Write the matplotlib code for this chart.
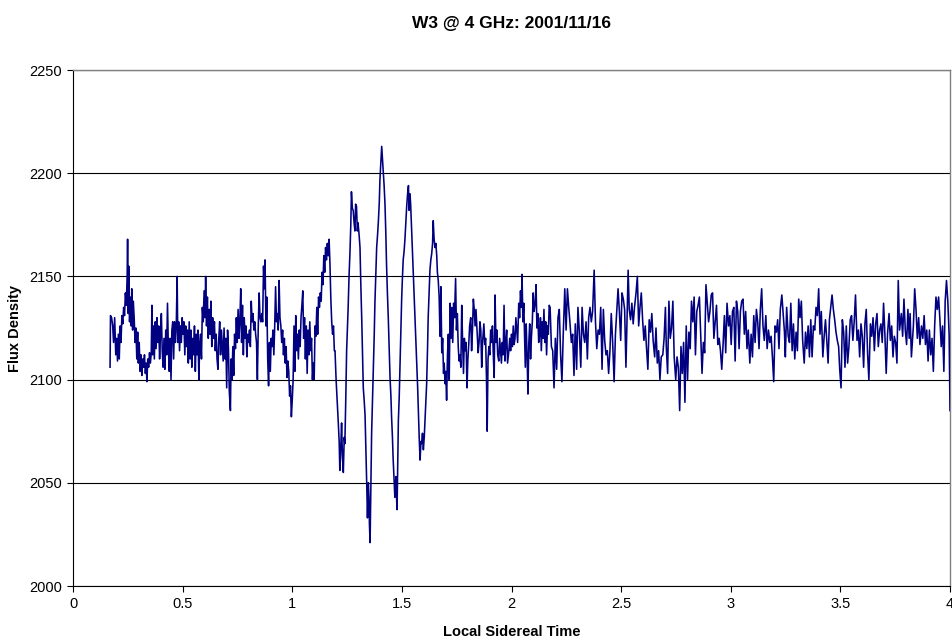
import matplotlib
matplotlib.use("Agg")
import matplotlib.pyplot as plt

plt.rcParams['font.family'] = ['Liberation Sans', 'DejaVu Sans']

# W3 drift scan, 4 GHz, 2001/11/16
lst = [
    0.169, 0.171, 0.176, 0.181, 0.185, 0.190, 0.195, 0.199, 0.203, 0.207,
    0.211, 0.215, 0.219, 0.223, 0.227, 0.231, 0.235, 0.239, 0.243, 0.247,
    0.249, 0.252, 0.254, 0.258, 0.261, 0.265, 0.268, 0.272, 0.275, 0.279,
    0.283, 0.287, 0.291, 0.295, 0.298, 0.302, 0.306, 0.310, 0.314, 0.318,
    0.322, 0.326, 0.330, 0.334, 0.337, 0.341, 0.345, 0.349, 0.353, 0.357,
    0.360, 0.363, 0.367, 0.371, 0.375, 0.379, 0.383, 0.387, 0.391, 0.395,
    0.399, 0.403, 0.407, 0.411, 0.415, 0.419, 0.423, 0.427, 0.431, 0.435,
    0.439, 0.443, 0.447, 0.451, 0.455, 0.459, 0.463, 0.467, 0.471, 0.475,
    0.478, 0.482, 0.486, 0.490, 0.494, 0.498, 0.502, 0.506, 0.510, 0.514,
    0.518, 0.522, 0.526, 0.530, 0.534, 0.538, 0.542, 0.546, 0.550, 0.554,
    0.558, 0.562, 0.566, 0.570, 0.574, 0.578, 0.582, 0.586, 0.590, 0.594,
    0.598, 0.602, 0.605, 0.609, 0.613, 0.617, 0.621, 0.625, 0.629, 0.633,
    0.637, 0.641, 0.645, 0.649, 0.653, 0.657, 0.661, 0.665,
    0.669, 0.673, 0.677, 0.681, 0.685, 0.689, 0.693, 0.697, 0.701, 0.705,
    0.709, 0.713, 0.718, 0.721, 0.725, 0.729, 0.733, 0.737, 0.741, 0.745,
    0.749, 0.753, 0.757, 0.761, 0.765, 0.769, 0.773, 0.777, 0.781, 0.785,
    0.789, 0.793, 0.797, 0.801, 0.805, 0.809, 0.813, 0.817, 0.821, 0.825,
    0.829, 0.833, 0.837, 0.841, 0.845, 0.849, 0.853, 0.857, 0.861, 0.865,
    0.869, 0.873, 0.876, 0.880, 0.884, 0.888, 0.892, 0.896, 0.900, 0.904,
    0.908, 0.912, 0.916, 0.920, 0.924, 0.928, 0.932, 0.936, 0.940, 0.944,
    0.948, 0.952, 0.956, 0.960, 0.964, 0.968, 0.972, 0.976, 0.980, 0.984,
    0.988, 0.992, 0.996, 1.000, 1.004, 1.008, 1.012, 1.016, 1.020, 1.024,
    1.028, 1.032, 1.036, 1.040, 1.044, 1.048, 1.052, 1.056, 1.060, 1.064,
    1.068, 1.072, 1.076, 1.080, 1.084, 1.088, 1.092, 1.096, 1.100, 1.104,
    1.108, 1.112, 1.116, 1.120, 1.124, 1.128, 1.132, 1.136, 1.140, 1.144,
    1.148, 1.152, 1.156, 1.160, 1.164, 1.168, 1.172, 1.176, 1.180, 1.184,
    1.188, 1.192,
    1.195, 1.200, 1.205, 1.210, 1.214, 1.217, 1.221, 1.225, 1.229, 1.233,
    1.237, 1.240, 1.244, 1.248, 1.252, 1.255, 1.259, 1.263, 1.267, 1.270,
    1.274, 1.278, 1.282, 1.286, 1.289, 1.293, 1.297, 1.300, 1.305, 1.309,
    1.313, 1.317, 1.321, 1.324, 1.328, 1.332, 1.336, 1.340, 1.343, 1.347,
    1.350, 1.352, 1.355, 1.358, 1.362, 1.366, 1.370, 1.374, 1.377, 1.381,
    1.385, 1.389, 1.393, 1.397, 1.400, 1.404, 1.408, 1.411, 1.415, 1.419,
    1.423, 1.427, 1.430, 1.434, 1.438, 1.442, 1.446, 1.450, 1.453, 1.457,
    1.460, 1.464, 1.468, 1.471, 1.473, 1.476, 1.478, 1.481, 1.484, 1.488,
    1.491, 1.495, 1.499, 1.502, 1.506, 1.510, 1.514, 1.518, 1.522, 1.526,
    1.530, 1.533, 1.537, 1.540, 1.545, 1.549, 1.552, 1.556, 1.560, 1.564,
    1.568, 1.572, 1.575, 1.579, 1.583, 1.587, 1.590, 1.594, 1.598, 1.602,
    1.605, 1.609, 1.613, 1.617, 1.620, 1.624, 1.628, 1.632, 1.636, 1.640,
    1.643, 1.647, 1.651, 1.655, 1.659, 1.662, 1.666, 1.670, 1.674, 1.678,
    1.682, 1.686, 1.690, 1.693, 1.697, 1.700, 1.704, 1.708, 1.712, 1.716,
    1.720, 1.724, 1.728, 1.732, 1.736, 1.740, 1.745, 1.749, 1.753, 1.757,
    1.761, 1.765, 1.769, 1.773, 1.777, 1.781, 1.785, 1.789, 1.793, 1.797,
    1.801, 1.805, 1.809, 1.814, 1.818, 1.822, 1.826, 1.830, 1.834, 1.838,
    1.844, 1.848, 1.852, 1.856, 1.860, 1.864, 1.868, 1.874, 1.878, 1.882,
    1.886, 1.889, 1.893, 1.897, 1.901, 1.905, 1.909, 1.913, 1.917, 1.921,
    1.925, 1.929, 1.933, 1.937, 1.942, 1.946, 1.950, 1.954, 1.958, 1.962,
    1.966, 1.970, 1.974, 1.978, 1.982, 1.988, 1.992, 1.996, 2.000, 2.004,
    2.008, 2.012, 2.016, 2.020, 2.024, 2.028, 2.033, 2.037, 2.041, 2.045,
    2.048, 2.052, 2.056, 2.060, 2.063, 2.067, 2.071, 2.075, 2.079, 2.083,
    2.087, 2.091, 2.095, 2.099, 2.103, 2.108, 2.112, 2.116, 2.120, 2.124,
    2.128, 2.132, 2.136, 2.140, 2.144, 2.148, 2.152, 2.156, 2.160, 2.164,
    2.168, 2.172, 2.176, 2.182, 2.188, 2.194, 2.200, 2.206, 2.212, 2.218,
    2.224, 2.230, 2.236, 2.243, 2.249, 2.255, 2.261, 2.267, 2.273, 2.279,
    2.285, 2.291, 2.297, 2.303, 2.309, 2.316, 2.322, 2.328, 2.334, 2.340,
    2.346, 2.352, 2.358, 2.364, 2.370, 2.377, 2.383, 2.389, 2.395, 2.401,
    2.407, 2.413, 2.419, 2.425, 2.431, 2.437, 2.443, 2.449, 2.455, 2.461,
    2.468, 2.474, 2.480, 2.486, 2.492, 2.498, 2.504, 2.510, 2.516, 2.522,
    2.528, 2.532, 2.537, 2.543, 2.549, 2.555, 2.561, 2.568, 2.574, 2.580,
    2.586, 2.592, 2.598, 2.604, 2.610, 2.616, 2.622, 2.628, 2.634, 2.640,
    2.646, 2.653, 2.659, 2.665, 2.671, 2.677, 2.683, 2.690, 2.696, 2.702,
    2.706, 2.712, 2.718, 2.724, 2.730, 2.736, 2.742, 2.749, 2.755, 2.761,
    2.767, 2.773, 2.779, 2.785, 2.791, 2.797, 2.803, 2.809, 2.815, 2.821,
    2.827, 2.833, 2.839, 2.845, 2.851, 2.857, 2.863, 2.869, 2.875, 2.881,
    2.887, 2.893, 2.899, 2.905, 2.911, 2.917, 2.923, 2.929, 2.935, 2.941,
    2.947, 2.953, 2.959, 2.965, 2.971, 2.977, 2.983, 2.990, 2.996, 3.002,
    3.008, 3.014, 3.020, 3.026, 3.032, 3.038, 3.044, 3.050, 3.056, 3.062,
    3.068, 3.074, 3.080, 3.087, 3.093, 3.099, 3.105, 3.111, 3.117, 3.123,
    3.129, 3.135, 3.141, 3.147, 3.153, 3.160, 3.166, 3.172, 3.178, 3.184,
    3.190, 3.196, 3.202, 3.208, 3.214, 3.220, 3.226, 3.233, 3.239, 3.245,
    3.249, 3.255, 3.262, 3.268, 3.274, 3.280, 3.286, 3.292, 3.298, 3.304,
    3.310, 3.316, 3.322, 3.328, 3.335, 3.341, 3.347, 3.353, 3.359, 3.365,
    3.371, 3.377, 3.383, 3.389, 3.395, 3.401, 3.407, 3.413, 3.420, 3.426,
    3.432, 3.438, 3.444, 3.450, 3.456, 3.462, 3.468, 3.474, 3.480, 3.486,
    3.492, 3.497, 3.503, 3.509, 3.515, 3.521, 3.527, 3.533, 3.539, 3.545,
    3.551, 3.557, 3.563, 3.569, 3.576, 3.582, 3.588, 3.594, 3.600, 3.606,
    3.612, 3.618, 3.624, 3.630, 3.637, 3.643, 3.649, 3.655, 3.661, 3.667,
    3.673, 3.679, 3.685, 3.691, 3.697, 3.703, 3.709, 3.715, 3.722, 3.728,
    3.734, 3.740, 3.746, 3.752, 3.758, 3.764, 3.770, 3.778, 3.784, 3.790,
    3.796, 3.802, 3.808, 3.814, 3.818, 3.824, 3.833, 3.839, 3.845, 3.851,
    3.857, 3.863, 3.870, 3.876, 3.882, 3.888, 3.894, 3.900, 3.906, 3.912,
    3.918, 3.924, 3.930, 3.936, 3.942, 3.948, 3.954, 3.960, 3.966, 3.972,
    3.978, 3.984, 3.990, 3.996, 4.000,
]

flux = [
    2106, 2131, 2130, 2126, 2118, 2130, 2112, 2120, 2109, 2122,
    2110, 2126, 2118, 2131, 2127, 2135, 2131, 2142, 2136, 2150,
    2168, 2132, 2155, 2128, 2140, 2126, 2144, 2124, 2138, 2130,
    2118, 2125, 2110, 2123, 2108, 2118, 2104, 2112, 2102, 2110,
    2106, 2112, 2103, 2108, 2099, 2110, 2106, 2113, 2108, 2113,
    2136, 2112, 2126, 2110, 2128, 2115, 2130, 2118, 2126, 2110,
    2122, 2132, 2114, 2106, 2120, 2105, 2124, 2112, 2137, 2115,
    2104, 2120, 2100, 2124, 2128, 2110, 2128, 2118, 2126, 2150,
    2118, 2128, 2114, 2126, 2118, 2130, 2122, 2128, 2112, 2126,
    2116, 2124, 2108, 2128, 2110, 2124, 2106, 2120, 2112, 2126,
    2104, 2122, 2112, 2124, 2100, 2118, 2122, 2110, 2135, 2128,
    2143, 2130, 2150, 2126, 2140, 2120, 2134, 2122, 2138, 2116,
    2130, 2120, 2128, 2114, 2122, 2110, 2105, 2120,
    2128, 2112, 2124, 2116, 2109, 2125, 2110, 2120, 2096, 2124,
    2115, 2094, 2085, 2110, 2100, 2116, 2102, 2122, 2115, 2130,
    2118, 2134, 2120, 2128, 2144, 2118, 2136, 2112, 2130, 2120,
    2126, 2111, 2122, 2118, 2124, 2116, 2138, 2128, 2132, 2124,
    2128, 2122, 2118, 2100, 2126, 2142, 2130, 2128, 2132, 2128,
    2155, 2144, 2158, 2126, 2140, 2110, 2097, 2118, 2104, 2120,
    2116, 2124, 2112, 2126, 2145, 2128, 2132, 2124, 2148, 2130,
    2126, 2118, 2124, 2112, 2120, 2108, 2116, 2101, 2109, 2104,
    2092, 2097, 2082, 2090, 2100, 2126, 2104, 2131, 2114, 2122,
    2110, 2124, 2116, 2130, 2136, 2143, 2120, 2130, 2110, 2126,
    2103, 2124, 2112, 2128, 2114, 2120, 2100, 2108, 2100, 2126,
    2121, 2135, 2122, 2140, 2135, 2142, 2138, 2152, 2146, 2160,
    2152, 2164, 2158, 2166, 2160, 2168, 2156, 2139, 2128, 2122,
    2126, 2114,
    2114, 2100, 2090, 2079, 2070, 2056, 2066, 2079, 2062, 2055,
    2072, 2069, 2090, 2114, 2126, 2135, 2150, 2161, 2175, 2191,
    2183, 2182, 2176, 2172, 2185, 2184, 2172, 2176, 2170, 2164,
    2145, 2129, 2110, 2096, 2090, 2083, 2066, 2048, 2033, 2050,
    2043, 2030, 2021, 2045, 2074, 2090, 2105, 2122, 2137, 2150,
    2164, 2170, 2177, 2186, 2197, 2205, 2213, 2208, 2202, 2194,
    2185, 2170, 2156, 2142, 2130, 2115, 2101, 2092, 2082, 2072,
    2062, 2052, 2043, 2050, 2053, 2042, 2037, 2060, 2080, 2092,
    2105, 2122, 2139, 2148, 2158, 2162, 2168, 2176, 2184, 2190,
    2194, 2182, 2190, 2185, 2171, 2160, 2151, 2140, 2130, 2118,
    2108, 2096, 2085, 2072, 2061, 2070, 2069, 2074, 2066, 2072,
    2079, 2088, 2098, 2115, 2130, 2142, 2153, 2158, 2161, 2166,
    2177, 2168, 2164, 2166, 2160, 2152, 2148, 2140, 2121, 2145,
    2113, 2120, 2103, 2108, 2098, 2104, 2090, 2112, 2122, 2100,
    2137, 2120, 2135, 2118, 2137, 2130, 2149, 2124, 2132, 2116,
    2109, 2112, 2106, 2136, 2118, 2103, 2120, 2114, 2118, 2096,
    2110, 2117, 2126, 2130, 2114, 2124, 2139, 2134, 2126, 2134,
    2121, 2113, 2118, 2128, 2124, 2106, 2118, 2127, 2117, 2120,
    2100, 2075, 2110, 2116, 2112, 2124, 2118, 2126, 2112, 2101,
    2141, 2118, 2124, 2112, 2109, 2120, 2114, 2108, 2118, 2112,
    2136, 2109, 2118, 2124, 2108, 2114, 2120, 2114, 2122, 2116,
    2126, 2117, 2120, 2130, 2124, 2118, 2137, 2130, 2143, 2135,
    2151, 2128, 2137, 2118, 2106, 2127, 2112, 2093, 2118, 2127,
    2110, 2121, 2128, 2142, 2133, 2137, 2146, 2125, 2132, 2118,
    2122, 2130, 2114, 2128, 2120, 2134, 2118, 2128, 2112, 2126,
    2122, 2136, 2135, 2116, 2114, 2096, 2120, 2105, 2130, 2134,
    2112, 2099, 2122, 2144, 2124, 2144, 2135, 2127, 2118, 2122,
    2102, 2127, 2105, 2135, 2124, 2106, 2135, 2122, 2118, 2128,
    2110, 2130, 2135, 2128, 2133, 2153, 2128, 2115, 2124, 2122,
    2135, 2105, 2134, 2119, 2112, 2114, 2103, 2114, 2132, 2119,
    2099, 2122, 2133, 2144, 2133, 2119, 2142, 2139, 2134, 2106,
    2134, 2153, 2134, 2129, 2137, 2127, 2135, 2142, 2150, 2126,
    2135, 2142, 2129, 2119, 2126, 2115, 2105, 2129, 2123, 2132,
    2119, 2111, 2125, 2108, 2114, 2100, 2111, 2112, 2120, 2135,
    2116, 2103, 2138, 2120, 2125, 2138, 2111, 2100, 2111, 2106,
    2085, 2116, 2103, 2118, 2089, 2126, 2100, 2123, 2115, 2138,
    2128, 2140, 2112, 2133, 2136, 2140, 2122, 2103, 2118, 2113,
    2146, 2137, 2128, 2133, 2141, 2142, 2120, 2128, 2136, 2117,
    2120, 2114, 2105, 2117, 2131, 2113, 2137, 2126, 2131, 2117,
    2133, 2135, 2109, 2138, 2133, 2115, 2133, 2138, 2139, 2122,
    2133, 2115, 2124, 2108, 2122, 2111, 2131, 2118, 2134, 2128,
    2115, 2134, 2144, 2126, 2119, 2131, 2115, 2124, 2118, 2121,
    2111, 2099, 2126, 2123, 2129, 2115, 2134, 2141, 2132, 2123,
    2111, 2135, 2121, 2118, 2137, 2114, 2127, 2110, 2123, 2114,
    2139, 2130, 2138, 2119, 2108, 2123, 2115, 2126, 2111, 2129,
    2111, 2126, 2124, 2135, 2131, 2144, 2122, 2133, 2111, 2121,
    2129, 2119, 2108, 2129, 2135, 2141, 2134, 2129, 2123, 2119,
    2116, 2105, 2096, 2129, 2123, 2106, 2126, 2108, 2116, 2129,
    2131, 2119, 2128, 2141, 2119, 2124, 2111, 2127, 2121, 2106,
    2127, 2134, 2113, 2100, 2127, 2121, 2130, 2114, 2127, 2132,
    2116, 2124, 2127, 2118, 2137, 2122, 2103, 2122, 2132, 2119,
    2126, 2111, 2121, 2118, 2108, 2148, 2124, 2132, 2121, 2139,
    2124, 2117, 2134, 2120, 2132, 2111, 2126, 2144, 2134, 2120,
    2130, 2117, 2126, 2120, 2131, 2117, 2124, 2109, 2124, 2112,
    2120, 2104, 2126, 2140, 2134, 2140, 2129, 2116, 2126, 2104,
    2138, 2148, 2138, 2122, 2085,
]

x_ticks = [0, 0.5, 1, 1.5, 2, 2.5, 3, 3.5, 4]
x_tick_labels = ['0', '0.5', '1', '1.5', '2', '2.5', '3', '3.5', '4']
y_ticks = [2000, 2050, 2100, 2150, 2200, 2250]

fig = plt.figure(figsize=(9.52, 6.4), dpi=100)
ax = fig.add_axes([73 / 952, 1 - 586 / 640, 877 / 952, 516 / 640])

ax.plot(lst, flux, color='#000080', linewidth=1.15, zorder=3)

ax.set_xlim(0, 4)
ax.set_ylim(2000, 2250)
ax.set_xticks(x_ticks)
ax.set_xticklabels(x_tick_labels)
ax.set_yticks(y_ticks)
ax.yaxis.grid(True, color='black', linewidth=0.8)
ax.set_axisbelow(True)

for s in ['top', 'right']:
    ax.spines[s].set_color('#808080')
    ax.spines[s].set_linewidth(1.0)
ax.spines['left'].set_color('black')
ax.spines['bottom'].set_color('black')
ax.tick_params(axis='both', direction='out', length=4, width=0.8,
               labelsize=10.5, pad=4)

ax.set_title('W3 @ 4 GHz: 2001/11/16', fontsize=12.5, fontweight='bold',
             pad=30)
ax.set_xlabel('Local Sidereal Time', fontsize=10.5, fontweight='bold')
ax.xaxis.set_label_coords(0.5, -0.075)
ax.set_ylabel('Flux Density', fontsize=10.5, fontweight='bold')
ax.yaxis.set_label_coords(-0.058, 0.5)

fig.savefig('out.png', dpi=100)
